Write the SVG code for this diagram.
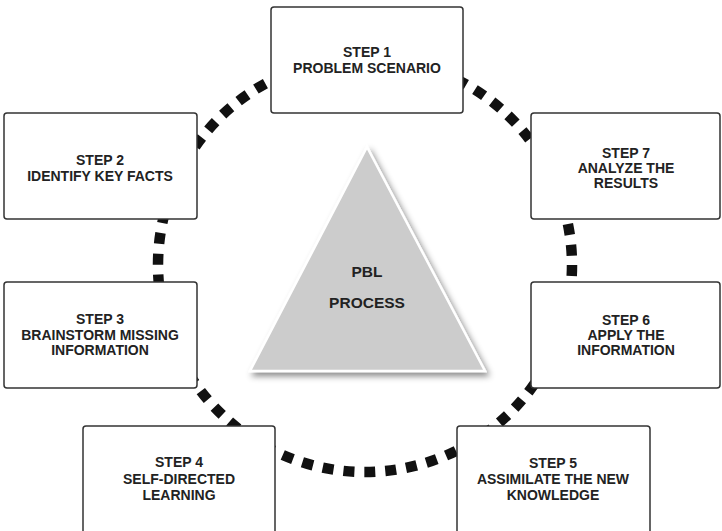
<svg xmlns="http://www.w3.org/2000/svg" width="722" height="531" viewBox="0 0 722 531">
<style>
.box{fill:#ffffff;stroke:#333333;stroke-width:1.5}
.t{font-family:"Liberation Sans",Arial,sans-serif;font-weight:bold;font-size:14px;fill:#222222;text-anchor:middle}
.tri{font-family:"Liberation Sans",Arial,sans-serif;font-weight:bold;font-size:15.5px;fill:#222222;text-anchor:middle}
</style>
<defs>
<filter id="sh" x="-20%" y="-20%" width="140%" height="140%">
<feDropShadow dx="3" dy="4" stdDeviation="3" flood-color="#000000" flood-opacity="0.45"/>
</filter>
</defs>
<rect width="722" height="531" fill="#ffffff"/>
<g id="connectors">
<circle cx="365" cy="265" r="207" fill="none" stroke="#111111" stroke-width="10.5" stroke-dasharray="11 9.98"/>
</g>
<g id="center">
<polygon points="367,147 250,371 485,371" fill="#cccccc" stroke="#ffffff" stroke-width="2.5" filter="url(#sh)"/>
<text class="tri" x="367" y="277">PBL</text>
<text class="tri" x="367" y="308">PROCESS</text>
</g>
<g id="step1">
<rect class="box" x="271" y="7" width="192" height="106" rx="3"/>
<text class="t" x="367" y="57">STEP 1</text>
<text class="t" x="367" y="73">PROBLEM SCENARIO</text>
</g>
<g id="step2">
<rect class="box" x="4" y="113" width="193" height="106" rx="3"/>
<text class="t" x="100" y="165">STEP 2</text>
<text class="t" x="100" y="181">IDENTIFY KEY FACTS</text>
</g>
<g id="step7">
<rect class="box" x="531" y="113" width="189" height="106" rx="3"/>
<text class="t" x="626" y="158">STEP 7</text>
<text class="t" x="626" y="173">ANALYZE THE</text>
<text class="t" x="626" y="188">RESULTS</text>
</g>
<g id="step3">
<rect class="box" x="4" y="282" width="193" height="106" rx="3"/>
<text class="t" x="100" y="324">STEP 3</text>
<text class="t" x="100" y="340">BRAINSTORM MISSING</text>
<text class="t" x="100" y="355">INFORMATION</text>
</g>
<g id="step6">
<rect class="box" x="531" y="282" width="189" height="106" rx="3"/>
<text class="t" x="626" y="325">STEP 6</text>
<text class="t" x="626" y="340">APPLY THE</text>
<text class="t" x="626" y="355">INFORMATION</text>
</g>
<g id="step4">
<rect class="box" x="83" y="426" width="192" height="112" rx="3"/>
<text class="t" x="179" y="467">STEP 4</text>
<text class="t" x="179" y="484">SELF-DIRECTED</text>
<text class="t" x="179" y="500">LEARNING</text>
</g>
<g id="step5">
<rect class="box" x="457" y="426" width="193" height="112" rx="3"/>
<text class="t" x="553" y="468">STEP 5</text>
<text class="t" x="553" y="484">ASSIMILATE THE NEW</text>
<text class="t" x="553" y="500">KNOWLEDGE</text>
</g>
</svg>
